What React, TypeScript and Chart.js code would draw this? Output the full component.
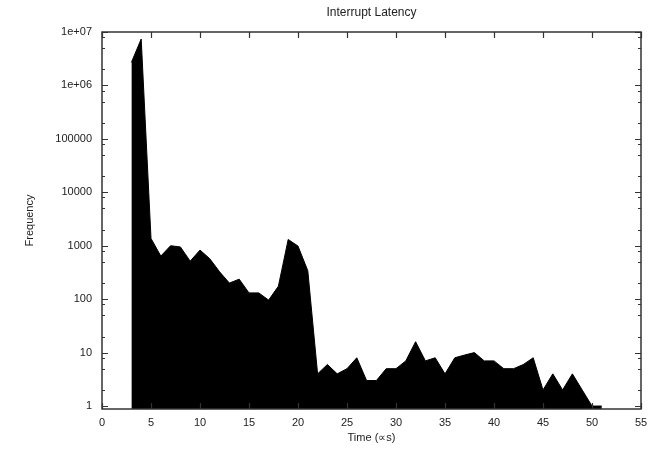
import React, { useEffect, useRef } from "react";
import { Chart, registerables } from "chart.js";

Chart.register(...registerables);

const chartTitle = "Interrupt Latency";
const xAxisTitle = "Time (\u221Ds)";
const yAxisTitle = "Frequency";

const latencyTimes = [
  3, 4, 5, 6, 7, 8, 9, 10, 11, 12, 13, 14, 15, 16, 17, 18, 19, 20, 21, 22, 23, 24, 25, 26, 27,
  28, 29, 30, 31, 32, 33, 34, 35, 36, 37, 38, 39, 40, 41, 42, 43, 44, 45, 46, 47, 48, 49, 50, 51,
];
const frequencies = [
  2700000, 7400000, 1370, 640, 1000, 950, 515, 830, 570, 325, 200, 237, 131, 131, 96, 175, 1310,
  985, 340, 4, 6, 4, 5, 8, 3, 3, 5, 5, 7, 16, 7, 8, 4, 8, 9, 10, 7, 7, 5, 5, 6, 8, 2, 4, 2, 4, 2,
  1, 1,
];

const xTickValues = [0, 5, 10, 15, 20, 25, 30, 35, 40, 45, 50, 55];
const yTickValues = [1, 10, 100, 1000, 10000, 100000, 1000000, 10000000];
const yTickLabels = ["1", "10", "100", "1000", "10000", "100000", "1e+06", "1e+07"];
const yMinorMultipliers = [2, 5, 8];

const FONT = "'Liberation Sans', Arial, Helvetica, sans-serif";

const framePlugin = {
  id: "gnuplotFrame",
  afterDatasetsDraw(chart: any) {
    const { ctx, chartArea } = chart;
    const { left, right, top, bottom } = chartArea;
    const xs = chart.scales.x;
    const ys = chart.scales.y;
    ctx.save();
    ctx.strokeStyle = "#333";
    ctx.lineWidth = 1.2;
    ctx.beginPath();
    // x major ticks (bottom and top, inward)
    xTickValues.forEach((v) => {
      const px = Math.round(xs.getPixelForValue(v)) + 0.5;
      ctx.moveTo(px, bottom);
      ctx.lineTo(px, bottom - 6);
      ctx.moveTo(px, top);
      ctx.lineTo(px, top + 6);
    });
    // y major ticks
    yTickValues.forEach((v) => {
      const py = Math.round(ys.getPixelForValue(v)) + 0.5;
      ctx.moveTo(left, py);
      ctx.lineTo(left + 6, py);
      ctx.moveTo(right, py);
      ctx.lineTo(right - 6, py);
    });
    // y minor ticks
    yTickValues.forEach((v) => {
      yMinorMultipliers.forEach((m) => {
        const val = v * m;
        if (val > ys.max) return;
        const py = Math.round(ys.getPixelForValue(val)) + 0.5;
        ctx.moveTo(left, py);
        ctx.lineTo(left + 3, py);
        ctx.moveTo(right, py);
        ctx.lineTo(right - 3, py);
      });
    });
    ctx.stroke();
    ctx.lineWidth = 1.5;
    ctx.strokeRect(left, top, right - left, bottom - top);

    // texts
    ctx.fillStyle = "#222";
    ctx.textAlign = "center";
    ctx.textBaseline = "middle";
    ctx.font = `12px ${FONT}`;
    ctx.fillText(chartTitle, (left + right) / 2, 13);
    ctx.font = `11px ${FONT}`;
    ctx.fillText(xAxisTitle, (left + right) / 2, 438);
    ctx.save();
    ctx.translate(30, (top + bottom) / 2);
    ctx.rotate(-Math.PI / 2);
    ctx.fillText(yAxisTitle, 0, 0);
    ctx.restore();
    ctx.restore();
  },
};

export default function App() {
  const canvasRef = useRef<HTMLCanvasElement | null>(null);

  useEffect(() => {
    if (!canvasRef.current) return;
    const chart = new Chart(canvasRef.current, {
      type: "line",
      data: {
        datasets: [
          {
            data: latencyTimes.map((t, i) => ({ x: t, y: frequencies[i] })),
            borderColor: "#000",
            backgroundColor: "#000",
            borderWidth: 1,
            pointRadius: 0,
            tension: 0,
            fill: "start",
          },
        ],
      },
      options: {
        animation: false,
        responsive: false,
        devicePixelRatio: 1,
        layout: { padding: { left: 0, right: 21, top: 32, bottom: 0 } },
        plugins: {
          legend: { display: false },
          title: { display: false },
          tooltip: { enabled: false },
        },
        scales: {
          x: {
            type: "linear",
            min: 0,
            max: 55,
            grid: { display: false, drawTicks: false },
            border: { display: false },
            afterBuildTicks: (scale: any) => {
              scale.ticks = xTickValues.map((v) => ({ value: v }));
            },
            afterFit: (scale: any) => {
              scale.height = 40;
            },
            ticks: {
              autoSkip: false,
              maxRotation: 0,
              padding: 7,
              color: "#222",
              font: { family: FONT, size: 11 },
            },
          },
          y: {
            type: "logarithmic",
            min: 0.88,
            max: 10000000,
            grid: { display: false, drawTicks: false },
            border: { display: false },
            afterBuildTicks: (scale: any) => {
              scale.ticks = yTickValues.map((v) => ({ value: v }));
            },
            afterFit: (scale: any) => {
              scale.width = 102;
            },
            ticks: {
              autoSkip: false,
              padding: 10,
              color: "#222",
              font: { family: FONT, size: 11 },
              callback: (_v: any, i: number) => yTickLabels[i],
            },
          },
        },
      },
      plugins: [framePlugin],
    });
    return () => chart.destroy();
  }, []);

  return (
    <div style={{ position: "absolute", left: 0, top: 0, width: 662, height: 449, background: "#fff" }}>
      <canvas ref={canvasRef} width={662} height={449} />
    </div>
  );
}
